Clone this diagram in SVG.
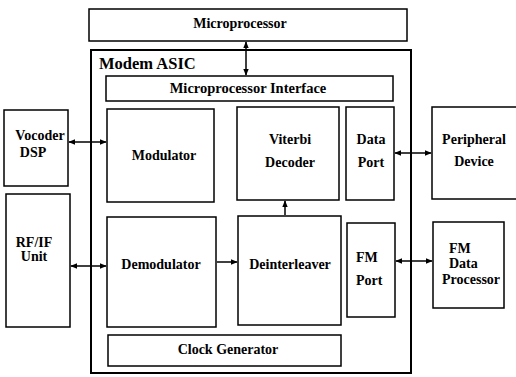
<svg xmlns="http://www.w3.org/2000/svg" width="516" height="377" viewBox="0 0 516 377">
<defs>
<marker id="ah" viewBox="0 0 10 10" refX="9" refY="5" markerWidth="7" markerHeight="7" orient="auto-start-reverse" markerUnits="userSpaceOnUse">
<path d="M0,1 L10,5 L0,9 z" fill="#000"/>
</marker>
<style>
rect{fill:#fff;stroke:#000;stroke-width:1.5}
text{font-family:"Liberation Serif","Times New Roman",serif;font-weight:bold;font-size:14px;fill:#000}
.c{text-anchor:middle}
.big{font-size:16.5px}
.cn line{stroke:#000;stroke-width:1.5}
</style>
</defs>
<rect x="0" y="0" width="516" height="377" style="fill:#fff;stroke:none"/>
<g id="microprocessor"><rect x="89" y="9" width="318" height="32"/><text class="c" x="240" y="28">Microprocessor</text></g>
<g id="modem-asic"><rect x="91" y="50" width="320" height="323" style="stroke-width:2"/><text class="big" x="99" y="69">Modem ASIC</text></g>
<g id="mp-interface"><rect x="106" y="76" width="287" height="25"/><text class="c" x="248" y="93" style="font-size:14.5px">Microprocessor Interface</text></g>
<g id="modulator"><rect x="107" y="109" width="107" height="93"/><text class="c" x="164" y="160">Modulator</text></g>
<g id="viterbi"><rect x="237" y="107" width="102" height="93"/><text class="c" x="290" y="144">Viterbi</text><text class="c" x="290" y="167">Decoder</text></g>
<g id="data-port"><rect x="346" y="107" width="48" height="93"/><text class="c" x="371" y="144">Data</text><text class="c" x="371" y="167">Port</text></g>
<g id="peripheral"><rect x="432" y="107" width="86" height="92"/><text class="c" x="474" y="144">Peripheral</text><text class="c" x="474" y="166">Device</text></g>
<g id="vocoder"><rect x="4" y="110" width="64" height="76"/><text class="c" x="40" y="140">Vocoder</text><text class="c" x="33" y="157">DSP</text></g>
<g id="rfif"><rect x="6" y="194" width="64" height="133"/><text class="c" x="34" y="247">RF/IF</text><text class="c" x="34" y="261">Unit</text></g>
<g id="demodulator"><rect x="107" y="217" width="109" height="110"/><text class="c" x="161" y="269">Demodulator</text></g>
<g id="deinterleaver"><rect x="238" y="216" width="103" height="109"/><text class="c" x="290" y="269">Deinterleaver</text></g>
<g id="fm-port"><rect x="347" y="223" width="48" height="94"/><text x="356" y="262">FM</text><text x="356" y="285">Port</text></g>
<g id="fm-data-proc"><rect x="433" y="222" width="71" height="86"/><text x="449" y="253">FM</text><text x="449" y="268">Data</text><text x="442" y="284">Processor</text></g>
<g id="clock-gen"><rect x="108" y="335" width="233" height="31"/><text class="c" x="228" y="354">Clock Generator</text></g>
<g class="cn" id="connectors">
<line x1="246" y1="42" x2="246" y2="75" marker-start="url(#ah)" marker-end="url(#ah)"/>
<line x1="69" y1="142" x2="106" y2="142" marker-start="url(#ah)" marker-end="url(#ah)"/>
<line x1="395" y1="153" x2="431" y2="153" marker-start="url(#ah)" marker-end="url(#ah)"/>
<line x1="71" y1="266" x2="106" y2="266" marker-start="url(#ah)" marker-end="url(#ah)"/>
<line x1="217" y1="262" x2="237" y2="262" marker-end="url(#ah)"/>
<line x1="285" y1="215" x2="285" y2="201" marker-end="url(#ah)"/>
<line x1="396" y1="261" x2="432" y2="261" marker-start="url(#ah)" marker-end="url(#ah)"/>
</g>
</svg>
